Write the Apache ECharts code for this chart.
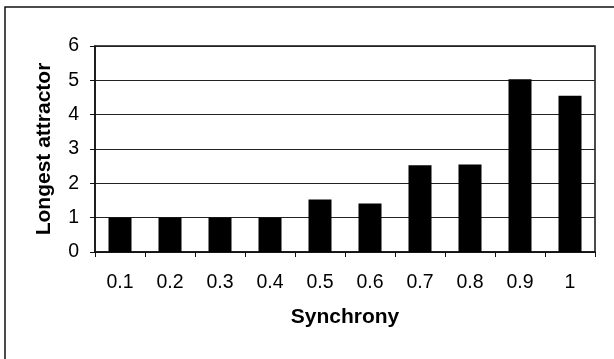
<!DOCTYPE html>
<html><head><meta charset="utf-8">
<script src="https://cdn.jsdelivr.net/npm/echarts@6/dist/echarts.min.js"></script>
<style>html,body{margin:0;padding:0;background:#fff}#c{width:614px;height:359px}</style>
</head><body><div id="c"></div>
<script>
const categories = ['0.1','0.2','0.3','0.4','0.5','0.6','0.7','0.8','0.9','1'];
const values = [1, 1, 1, 1, 1.53, 1.41, 2.53, 2.55, 5.03, 4.55];
const yTicks = [0, 1, 2, 3, 4, 5, 6];

const chart = echarts.init(document.getElementById('c'));
chart.setOption({
  animation: false,
  backgroundColor: '#fff',
  textStyle: { fontFamily: 'Liberation Sans, Arial, sans-serif' },
  graphic: [{
    type: 'rect', shape: { x: 5, y: 7, width: 640, height: 400 },
    style: { fill: 'none', stroke: '#111', lineWidth: 1.5 }, silent: true
  }],
  grid: { left: 95, right: 19, top: 46, bottom: 107, show: true, borderColor: '#111', borderWidth: 1.5, backgroundColor: 'transparent' },
  xAxis: {
    type: 'category', data: categories,
    name: 'Synchrony', nameLocation: 'middle', nameGap: 55,
    nameTextStyle: { fontSize: 21, fontWeight: 'bold', color: '#000' },
    axisLine: { lineStyle: { color: '#111', width: 1.5 } },
    axisTick: { show: true, alignWithLabel: false, length: 5, lineStyle: { color: '#111' } },
    axisLabel: { fontSize: 19.5, color: '#000', margin: 21 }
  },
  yAxis: {
    type: 'value', min: yTicks[0], max: yTicks[yTicks.length - 1], interval: 1,
    name: 'Longest attractor', nameLocation: 'middle', nameGap: 40,
    nameTextStyle: { fontSize: 21, fontWeight: 'bold', color: '#000' },
    axisLine: { show: true, lineStyle: { color: '#111', width: 1.5 } },
    axisTick: { show: true, length: 5, lineStyle: { color: '#111' } },
    axisLabel: { fontSize: 19.5, color: '#000', margin: 16 },
    splitLine: { show: true, lineStyle: { color: '#222', width: 1.2 } }
  },
  series: [{
    type: 'bar', data: values, barWidth: 23,
    itemStyle: { color: '#000' }
  }]
});
</script></body></html>
